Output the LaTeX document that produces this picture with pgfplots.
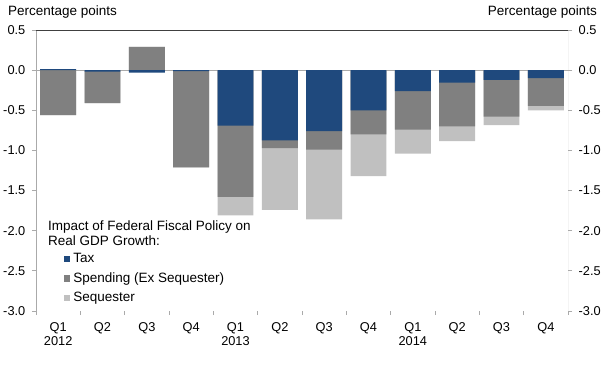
\documentclass[border=0pt]{standalone}
\usepackage{pgfplots}
\pgfplotsset{compat=1.18}
\usepackage{fontspec}
\setmainfont{Liberation Sans}
\definecolor{taxc}{RGB}{31,73,125}
\definecolor{spendc}{RGB}{128,128,128}
\definecolor{seqc}{RGB}{192,192,192}
\definecolor{framec}{RGB}{170,170,170}
\definecolor{topc}{RGB}{64,64,64}
\begin{document}
\fontsize{13.5bp}{15bp}\selectfont
\begin{tikzpicture}
\path[use as bounding box] (-36bp,-63bp) rectangle (569bp,311bp);
\begin{axis}[
  scale only axis, width=532bp, height=281bp,
  xmin=-0.5, xmax=11.5, ymin=-3, ymax=0.5,
  axis line style={draw=none},
  xtick={0,...,11},
  xticklabels={{Q1\\2012},Q2,Q3,Q4,{Q1\\2013},Q2,Q3,Q4,{Q1\\2014},Q2,Q3,Q4},
  x tick label style={align=center, font=\fontsize{12.8bp}{14bp}\selectfont, yshift=-3bp},
  major x tick style={draw=none},
  minor xtick={-0.5,0.5,...,11.5},
  minor x tick style={framec, line width=0.8bp},
  minor tick length=4bp,
  xtick pos=bottom,
  tick align=outside,
  ytick={-3,-2.5,...,0.5},
  ytick pos=both,
  major tick length=4bp,
  y tick style={framec, line width=0.8bp},
  yticklabel pos=left,
  y tick label style={font=\fontsize{12.8bp}{15bp}\selectfont, xshift=-2bp},
  /pgf/number format/assume math mode=true,
  /pgf/number format/.cd, fixed, fixed zerofill, precision=1, /pgfplots/.cd,
  extra y ticks={0},
  extra y tick labels={},
  extra y tick style={grid=major, major grid style={framec, line width=0.8bp}},
  ybar, bar width=0.81, bar shift=0pt,
  legend image code/.code={\fill[#1] (0bp,-3.2bp) rectangle (6.4bp,3.2bp);},
  reverse legend,
  legend style={at={(axis description cs:0.052,0.212)}, anchor=north west, draw=none, fill=none,
    font=\fontsize{13.5bp}{15bp}\selectfont, row sep=4.5bp, inner sep=0pt,
    nodes={inner sep=1bp, text height=10bp, text depth=3bp},
    /tikz/every odd column/.style={column sep=2bp}},
  legend cell align=left,
]
% cumulative: total (sequester colour), tax+spending, tax
\addplot[fill=seqc, draw=none] coordinates {
 (0,-0.56) (1,-0.41) (2,0.29) (3,-1.21) (4,-1.81) (5,-1.74)
 (6,-1.86) (7,-1.32) (8,-1.04) (9,-0.885) (10,-0.685) (11,-0.50)};
\addlegendentry{Sequester}
\addplot[fill=spendc, draw=none] coordinates {
 (0,-0.56) (1,-0.41) (2,0.29) (3,-1.21) (4,-1.58) (5,-0.97)
 (6,-0.99) (7,-0.80) (8,-0.74) (9,-0.70) (10,-0.58) (11,-0.445)};
\addlegendentry{Spending (Ex Sequester)}
\addplot[fill=taxc, draw=none] coordinates {
 (0,0.012) (1,-0.02) (2,-0.03) (3,-0.012) (4,-0.69) (5,-0.875)
 (6,-0.76) (7,-0.50) (8,-0.26) (9,-0.155) (10,-0.12) (11,-0.10)};
\addlegendentry{Tax}
\draw[framec, line width=0.8bp] (rel axis cs:0,0) -- (rel axis cs:0,1);
\draw[framec, line width=0.8bp] (rel axis cs:1,0) -- (rel axis cs:1,1);
\draw[framec, line width=0.8bp] (rel axis cs:0,0) -- (rel axis cs:1,0);
\draw[topc, line width=0.8bp] (rel axis cs:0,1) -- (rel axis cs:1,1);
\end{axis}
\begin{axis}[
  scale only axis, width=532bp, height=281bp,
  xmin=-0.5, xmax=11.5, ymin=-3, ymax=0.5,
  hide x axis,
  axis line style={draw=none},
  ytick={-3,-2.5,...,0.5},
  ytick pos=right, yticklabel pos=right,
  tick align=outside,
  major tick length=4bp,
  y tick style={framec, line width=0.8bp},
  y tick label style={font=\fontsize{12.8bp}{15bp}\selectfont, xshift=2bp},
  /pgf/number format/assume math mode=true,
  /pgf/number format/.cd, fixed, fixed zerofill, precision=1, /pgfplots/.cd,
]
\end{axis}
\node[anchor=base west, inner sep=0pt] at (-28bp,295bp) {Percentage points};
\node[anchor=base east, inner sep=0pt] at (561bp,295bp) {Percentage points};
\node[anchor=base west, align=left, inner sep=0pt, font=\fontsize{13.5bp}{15bp}\selectfont] at (12bp,65bp) {Impact of Federal Fiscal Policy on\\Real GDP Growth:};
\end{tikzpicture}
\end{document}
